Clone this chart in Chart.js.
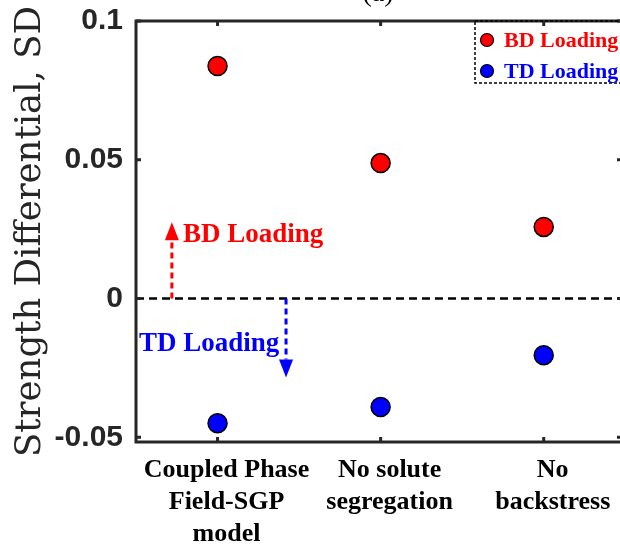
<!DOCTYPE html>
<html>
<head>
<meta charset="utf-8">
<script src="https://cdn.jsdelivr.net/npm/chart.js@4.4.1/dist/chart.umd.min.js"></script>
<style>
  html, body { margin: 0; padding: 0; overflow: hidden; background: #fff; }
  #wrap { width: 628px; height: 546px; }
</style>
</head>
<body>
<div id="wrap"><canvas id="sdChart" width="628" height="546"></canvas></div>
<script>
// Catégories (axe x) et valeurs
const categories = [
    ["Coupled Phase", "Field-SGP", "model"],
    ["No solute", "segregation"],
    ["No", "backstress"]
];
const bdValues = [0.0838, 0.0488, 0.0258];
const tdValues = [-0.0449, -0.0391, -0.0204];
const seriesNames = ["BD Loading", "TD Loading"];

const yTicks = [-0.05, 0, 0.05, 0.1];
const yTickLabels = ["-0.05", "0", "0.05", "0.1"];
const yTitle = "Strength Differential, SD";

const axisColor = "#262626";
const serifBold = "'Liberation Serif', 'Times New Roman', serif";

// Cadre, ticks intérieurs, ligne zéro, flèches, légende
const decorPlugin = {
    id: "decor",
    beforeDatasetsDraw(chart) {
        const { ctx, chartArea: a, scales: { x, y } } = chart;
        const y0 = y.getPixelForValue(0);

        ctx.save();
        // ligne zéro pointillée
        ctx.strokeStyle = "#000";
        ctx.lineWidth = 2.5;
        ctx.setLineDash([8, 5]);
        ctx.beginPath();
        ctx.moveTo(a.left, y0);
        ctx.lineTo(a.right, y0);
        ctx.stroke();

        // flèches
        const drawArrow = (xv, yEnd, color) => {
            const px = x.getPixelForValue(xv);
            const tip = y.getPixelForValue(yEnd);
            const dir = tip < y0 ? 1 : -1;
            const headLen = 18;
            ctx.strokeStyle = color;
            ctx.fillStyle = color;
            ctx.lineWidth = 3;
            ctx.setLineDash([6, 4]);
            ctx.beginPath();
            ctx.moveTo(px, y0);
            ctx.lineTo(px, tip + dir * headLen);
            ctx.stroke();
            ctx.setLineDash([]);
            ctx.beginPath();
            ctx.moveTo(px, tip);
            ctx.lineTo(px - 7, tip + dir * headLen);
            ctx.lineTo(px + 7, tip + dir * headLen);
            ctx.closePath();
            ctx.fill();
        };
        drawArrow(-0.28, 0.0275, "#ff0000");
        drawArrow(0.42, -0.0285, "#0000ff");

        ctx.font = "bold 27px " + serifBold;
        ctx.textBaseline = "alphabetic";
        ctx.textAlign = "left";
        ctx.fillStyle = "#ff0000";
        ctx.fillText(seriesNames[0], 183, 242);
        ctx.fillStyle = "#0000ff";
        ctx.fillText(seriesNames[1], 139, 351);
        ctx.restore();
    },
    afterDraw(chart) {
        const { ctx, chartArea: a, scales: { x, y } } = chart;
        ctx.save();
        ctx.strokeStyle = axisColor;
        ctx.lineWidth = 3;
        ctx.setLineDash([]);
        ctx.strokeRect(a.left, a.top, a.right - a.left, a.bottom - a.top);

        // ticks vers l'intérieur
        const tl = 5;
        ctx.beginPath();
        yTicks.forEach(v => {
            const py = y.getPixelForValue(v);
            ctx.moveTo(a.left, py); ctx.lineTo(a.left + tl, py);
            ctx.moveTo(a.right, py); ctx.lineTo(a.right - tl, py);
        });
        categories.forEach((c, i) => {
            const px = x.getPixelForValue(i);
            ctx.moveTo(px, a.bottom); ctx.lineTo(px, a.bottom - tl);
            ctx.moveTo(px, a.top); ctx.lineTo(px, a.top + tl);
        });
        ctx.stroke();

        // titre "(a)" coupé en haut
        ctx.fillStyle = "#000";
        ctx.font = "28px " + serifBold;
        ctx.textAlign = "center";
        ctx.textBaseline = "alphabetic";
        ctx.fillText("(a)", 378, 1);

        // légende
        const lx = 475, ly = a.top, lw = 160, lh = 62;
        ctx.strokeStyle = "#000";
        ctx.lineWidth = 1.5;
        ctx.setLineDash([3, 2]);
        ctx.strokeRect(lx, ly, lw, lh);
        ctx.setLineDash([]);
        ctx.textAlign = "left";
        ctx.font = "bold 22px " + serifBold;
        chart.data.datasets.forEach((ds, i) => {
            const cy = a.top + 19 + i * 31;
            ctx.beginPath();
            ctx.arc(487, cy, 6.5, 0, Math.PI * 2);
            ctx.fillStyle = ds.backgroundColor;
            ctx.fill();
            ctx.lineWidth = 1.2;
            ctx.strokeStyle = "#000";
            ctx.stroke();
            ctx.fillStyle = ds.backgroundColor;
            ctx.fillText(ds.label, 504, cy + 7);
        });
        ctx.restore();
    }
};

const canvas = document.getElementById("sdChart");

new Chart(canvas, {
    type: "scatter",
    plugins: [decorPlugin],
    data: {
        datasets: [
            {
                label: seriesNames[0],
                data: bdValues.map((v, i) => ({ x: i, y: v })),
                backgroundColor: "#ff0000",
                borderColor: "#000",
                borderWidth: 1.5,
                pointRadius: 9.5
            },
            {
                label: seriesNames[1],
                data: tdValues.map((v, i) => ({ x: i, y: v })),
                backgroundColor: "#0000ff",
                borderColor: "#000",
                borderWidth: 1.5,
                pointRadius: 9.5
            }
        ]
    },
    options: {
        responsive: false,
        animation: false,
        layout: { autoPadding: false, padding: { left: 0, right: 6, top: 21, bottom: 0 } },
        plugins: {
            legend: { display: false },
            tooltip: { enabled: false }
        },
        scales: {
            x: {
                type: "linear",
                min: -0.5,
                max: 2.48,
                grid: { display: false, drawTicks: false },
                border: { display: false },
                afterBuildTicks: s => { s.ticks = categories.map((c, i) => ({ value: i })); },
                afterFit: s => {
                    s.height = 104;
                    s.paddingLeft = 0;
                    s.paddingRight = 0;
                },
                ticks: {
                    padding: 12,
                    labelOffset: 9,
                    color: "#000",
                    maxRotation: 0,
                    autoSkip: false,
                    font: { family: serifBold, size: 26, weight: "bold", lineHeight: 1.24 },
                    callback: v => categories[v]
                }
            },
            y: {
                min: -0.0517,
                max: 0.1,
                grid: { display: false, drawTicks: false },
                border: { display: false },
                afterBuildTicks: s => { s.ticks = yTicks.map(v => ({ value: v })); },
                afterFit: s => {
                    s.width = 136;
                    s.paddingTop = 0;
                    s.paddingBottom = 0;
                },
                ticks: {
                    padding: 13,
                    color: axisColor,
                    font: { family: "'Liberation Sans', Arial, sans-serif", size: 30, weight: "bold" },
                    callback: v => yTickLabels[yTicks.indexOf(v)]
                },
                title: {
                    display: true,
                    text: yTitle,
                    color: axisColor,
                    padding: { top: 9, bottom: 0 },
                    font: { family: "'DejaVu Serif', serif", size: 35.5, weight: "normal" }
                }
            }
        }
    }
});
</script>
</body>
</html>
